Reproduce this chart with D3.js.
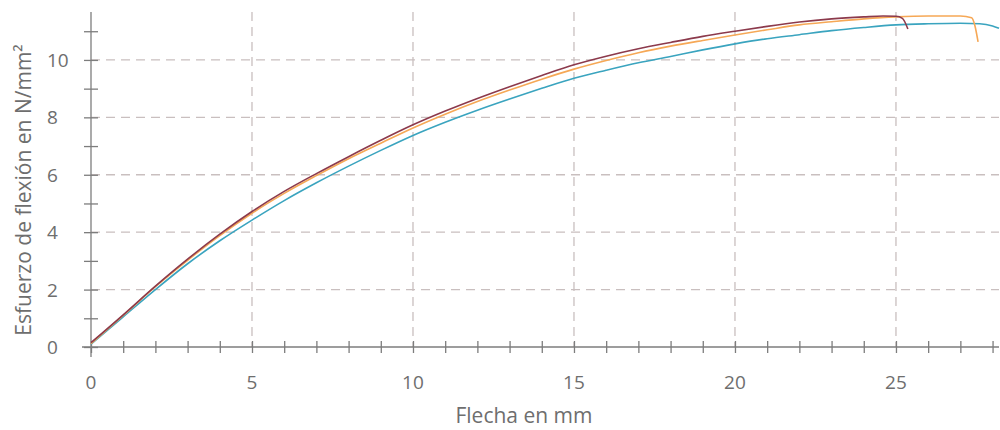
<!DOCTYPE html>
<html>
<head>
<meta charset="utf-8">
<script src="https://cdn.jsdelivr.net/npm/d3@7"></script>
<style>
  body { margin: 0; background: #fff; }
  text { font-family: "Open Sans", sans-serif; fill: #6e6e6e; }
</style>
</head>
<body>
<script>
// flecha (mm) vs esfuerzo (N/mm2)
const maroonX = [0, 1, 2, 3, 4, 5, 6, 7, 8, 9, 10, 11, 12, 13, 14, 15, 16, 17, 18, 19, 20, 21, 22, 23, 24, 24.6, 25.0, 25.2, 25.37];
const maroonY = [0.15, 1.12, 2.12, 3.06, 3.93, 4.72, 5.42, 6.04, 6.63, 7.2, 7.74, 8.22, 8.66, 9.07, 9.46, 9.83, 10.13, 10.39, 10.61, 10.82, 11.0, 11.17, 11.32, 11.43, 11.5, 11.53, 11.52, 11.45, 11.08];

const orangeX = [0, 1, 2, 3, 4, 5, 6, 7, 8, 9, 10, 11, 12, 13, 14, 15, 16, 17, 18, 19, 20, 21, 22, 23, 24, 25, 26, 27, 27.35, 27.45, 27.55];
const orangeY = [0.12, 1.1, 2.1, 3.02, 3.88, 4.66, 5.35, 5.97, 6.56, 7.1, 7.63, 8.11, 8.55, 8.95, 9.33, 9.68, 9.98, 10.25, 10.48, 10.68, 10.87, 11.05, 11.22, 11.33, 11.43, 11.5, 11.53, 11.53, 11.47, 11.2, 10.63];

const tealX = [0, 1, 2, 3, 4, 5, 6, 7, 8, 9, 10, 11, 12, 13, 14, 15, 16, 17, 18, 19, 20, 21, 22, 23, 24, 25, 26, 27, 27.6, 28.0, 28.2];
const tealY = [0.1, 1.05, 2.0, 2.9, 3.7, 4.42, 5.1, 5.72, 6.3, 6.85, 7.37, 7.83, 8.25, 8.64, 9.01, 9.36, 9.64, 9.9, 10.12, 10.35, 10.56, 10.74, 10.88, 11.02, 11.13, 11.22, 11.26, 11.28, 11.26, 11.18, 11.1];

const xTicks = [0, 5, 10, 15, 20, 25];
const yTicks = [0, 2, 4, 6, 8, 10];

const svg = d3.select("body").append("svg")
    .attr("width", 1000)
    .attr("height", 430);

const x = d3.scaleLinear().domain([0, 28.2]).range([91, 999]);
const y = d3.scaleLinear().domain([0, 11.67]).range([347, 12]);

// grid
svg.append("g").selectAll("line")
    .data(xTicks.slice(1))
    .enter().append("line")
    .attr("x1", d => x(d)).attr("x2", d => x(d))
    .attr("y1", y(11.67)).attr("y2", y(0))
    .attr("stroke", "#c9bfbf")
    .attr("stroke-width", 1.3)
    .attr("stroke-dasharray", "9,6");

svg.append("g").selectAll("line")
    .data(yTicks.slice(1))
    .enter().append("line")
    .attr("x1", x(0)).attr("x2", x(28.2))
    .attr("y1", d => y(d)).attr("y2", d => y(d))
    .attr("stroke", "#c9bfbf")
    .attr("stroke-width", 1.3)
    .attr("stroke-dasharray", "9,6");

// axes (ticks cross the axis line)
const xAxis = svg.append("g")
    .attr("transform", "translate(0," + y(0) + ")")
    .call(d3.axisBottom(x).tickValues(d3.range(0, 29)).tickSize(6).tickFormat(""));
xAxis.selectAll(".tick line").attr("y1", -6);
xAxis.select(".domain").attr("d", "M82,0H999");

const yAxis = svg.append("g")
    .attr("transform", "translate(" + x(0) + ",0)")
    .call(d3.axisLeft(y).tickValues(d3.range(0, 12)).tickSize(7).tickFormat(""));
yAxis.selectAll(".tick line").attr("x1", 7);
yAxis.select(".domain").attr("d", "M0,12V357");

svg.selectAll(".domain, .tick line")
    .attr("stroke", "#7d7d7d")
    .attr("stroke-width", 1.3);

// tick labels
svg.append("g").selectAll("text")
    .data(xTicks)
    .enter().append("text")
    .attr("x", d => x(d))
    .attr("y", 389)
    .attr("text-anchor", "middle")
    .attr("font-size", "19px")
    .text(d => d);

svg.append("g").selectAll("text")
    .data(yTicks)
    .enter().append("text")
    .attr("x", 47)
    .attr("y", d => y(d) + 7)
    .attr("font-size", "19px")
    .text(d => d);

// axis titles
svg.append("text")
    .attr("x", 524)
    .attr("y", 423)
    .attr("text-anchor", "middle")
    .attr("font-size", "21px")
    .text("Flecha en mm");

svg.append("text")
    .attr("transform", "translate(31,190) rotate(-90)")
    .attr("text-anchor", "middle")
    .attr("font-size", "21px")
    .text("Esfuerzo de flexión en N/mm²");

// curves
const line = d3.line()
    .x(d => x(d[0]))
    .y(d => y(d[1]))
    .curve(d3.curveMonotoneX);

const series = [
    { xs: tealX, ys: tealY, color: "#3aa4bf" },
    { xs: orangeX, ys: orangeY, color: "#f6a856" },
    { xs: maroonX, ys: maroonY, color: "#8c3a4c" }
];

series.forEach(s => {
    svg.append("path")
        .datum(s.xs.map((v, i) => [v, s.ys[i]]))
        .attr("fill", "none")
        .attr("stroke", s.color)
        .attr("stroke-width", 1.6)
        .attr("d", line);
});
</script>
</body>
</html>
